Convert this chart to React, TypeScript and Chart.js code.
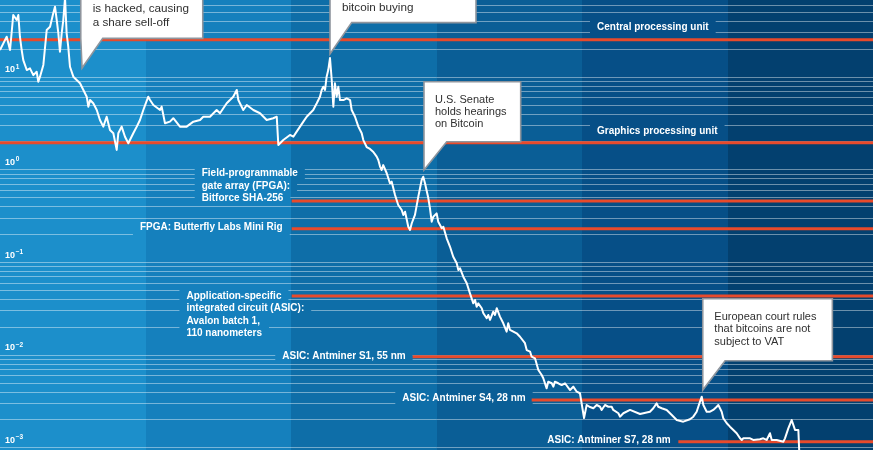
import React, { useEffect, useRef } from 'react';
import { Chart, registerables } from 'chart.js';

Chart.register(...registerables);

// ---------- data ----------
const dates: number[] = [
  2011.000, 2011.023, 2011.046, 2011.069, 2011.091, 2011.115, 2011.126, 2011.137, 2011.149, 2011.160,
  2011.184, 2011.206, 2011.229, 2011.252, 2011.263, 2011.275, 2011.298, 2011.321, 2011.344, 2011.366,
  2011.378, 2011.390, 2011.401, 2011.412, 2011.424, 2011.435, 2011.447, 2011.458, 2011.469, 2011.481,
  2011.504, 2011.527, 2011.550, 2011.573, 2011.596, 2011.607, 2011.619, 2011.641, 2011.665, 2011.687,
  2011.710, 2011.733, 2011.756, 2011.779, 2011.802, 2011.813, 2011.836, 2011.859, 2011.882, 2011.893,
  2011.916, 2011.940, 2011.962, 2011.985, 2012.019, 2012.031, 2012.054, 2012.100, 2012.111, 2012.134,
  2012.168, 2012.191, 2012.237, 2012.283, 2012.329, 2012.375, 2012.397, 2012.443, 2012.489, 2012.512,
  2012.558, 2012.603, 2012.627, 2012.638, 2012.672, 2012.696, 2012.741, 2012.787, 2012.833, 2012.878,
  2012.902, 2012.913, 2012.947, 2012.993, 2013.016, 2013.039, 2013.062, 2013.085, 2013.108, 2013.131,
  2013.153, 2013.177, 2013.199, 2013.211, 2013.222, 2013.234, 2013.245, 2013.256, 2013.268, 2013.280,
  2013.291, 2013.302, 2013.314, 2013.325, 2013.337, 2013.360, 2013.383, 2013.406, 2013.417, 2013.440,
  2013.463, 2013.486, 2013.497, 2013.520, 2013.543, 2013.566, 2013.589, 2013.600, 2013.612, 2013.623,
  2013.634, 2013.658, 2013.680, 2013.692, 2013.715, 2013.737, 2013.761, 2013.772, 2013.784, 2013.806,
  2013.818, 2013.830, 2013.852, 2013.875, 2013.898, 2013.909, 2013.921, 2013.944, 2013.955, 2013.967,
  2013.978, 2014.001, 2014.012, 2014.036, 2014.047, 2014.070, 2014.093, 2014.115, 2014.139, 2014.150,
  2014.162, 2014.184, 2014.208, 2014.230, 2014.253, 2014.265, 2014.276, 2014.287, 2014.311, 2014.322,
  2014.345, 2014.356, 2014.368, 2014.390, 2014.402, 2014.414, 2014.436, 2014.459, 2014.482, 2014.493,
  2014.505, 2014.551, 2014.574, 2014.608, 2014.620, 2014.643, 2014.654, 2014.677, 2014.700, 2014.723,
  2014.734, 2014.757, 2014.768, 2014.792, 2014.803, 2014.814, 2014.837, 2014.860, 2014.883, 2014.918,
  2014.940, 2014.964, 2014.986, 2015.014, 2015.032, 2015.055, 2015.078, 2015.101, 2015.124, 2015.135,
  2015.158, 2015.181, 2015.204, 2015.215, 2015.250, 2015.261, 2015.284, 2015.330, 2015.399, 2015.467,
  2015.490, 2015.513, 2015.524, 2015.548, 2015.582, 2015.617, 2015.651, 2015.696, 2015.742, 2015.765,
  2015.788, 2015.811, 2015.823, 2015.834, 2015.857, 2015.880, 2015.902, 2015.926, 2015.937, 2015.960,
  2015.971, 2015.995, 2016.017, 2016.040, 2016.063, 2016.086, 2016.098, 2016.109, 2016.155, 2016.177,
  2016.223, 2016.246, 2016.269, 2016.292, 2016.304, 2016.338, 2016.384, 2016.395, 2016.418, 2016.441,
  2016.464, 2016.487, 2016.498,
];

const ratio: number[] = [
  19.4, 22.9, 27.0, 19.4, 46.3, 40.9, 46.3, 27.0, 19.4, 15.1,
  11.8, 12.3, 10.4, 11.3, 8.83, 10.0, 13.4, 31.9, 34.6, 48.3,
  57.0, 40.9, 29.4, 18.6, 29.4, 40.9, 70.7, 29.4, 21.1, 12.8,
  10.0, 9.21, 8.49, 7.19, 6.08, 4.75, 5.60, 5.16, 4.37, 3.41,
  2.89, 3.70, 2.66, 2.45, 1.62, 2.45, 2.89, 2.25, 1.91, 2.07,
  2.45, 2.89, 3.41, 4.37, 6.08, 5.60, 4.95, 4.37, 4.75, 3.14,
  3.27, 3.56, 2.89, 2.89, 3.27, 3.41, 3.70, 3.70, 4.37, 4.03,
  5.16, 6.08, 7.19, 5.60, 4.37, 4.95, 4.37, 4.03, 3.41, 3.56,
  3.70, 1.83, 2.07, 2.35, 2.25, 2.55, 2.89, 3.27, 3.70, 4.03,
  4.37, 5.16, 6.08, 7.19, 7.80, 7.19, 10.0, 11.8, 15.9, 9.21,
  4.75, 8.49, 6.08, 7.80, 5.60, 5.60, 5.85, 5.60, 4.37, 3.70,
  2.89, 2.45, 2.07, 1.74, 1.66, 1.54, 1.37, 1.26, 1.07, 0.984,
  1.11, 0.907, 0.707, 0.736, 0.529, 0.412, 0.364, 0.322, 0.349, 0.240,
  0.222, 0.262, 0.322, 0.507, 0.767, 0.833, 0.707, 0.487, 0.380, 0.272,
  0.308, 0.335, 0.272, 0.231, 0.240, 0.180, 0.146, 0.114, 0.0968, 0.0820,
  0.0855, 0.0694, 0.0589, 0.0459, 0.0358, 0.0389, 0.0329, 0.0358, 0.0317, 0.0280,
  0.0247, 0.0268, 0.0237, 0.0291, 0.0268, 0.0317, 0.0257, 0.0218, 0.0177, 0.0218,
  0.0185, 0.0170, 0.0156, 0.0133, 0.0112, 0.0108, 0.0095, 0.00913, 0.00683, 0.00603,
  0.00556, 0.00433, 0.00511, 0.00491, 0.00451, 0.00511, 0.00491, 0.00470, 0.00491, 0.00415,
  0.00451, 0.00398, 0.00383, 0.00207, 0.00286, 0.00272, 0.00264, 0.00286, 0.00274, 0.00253,
  0.00286, 0.00274, 0.00274, 0.00253, 0.00233, 0.00214, 0.00233, 0.00253, 0.00229, 0.00242,
  0.00264, 0.00298, 0.00274, 0.00264, 0.00253, 0.00223, 0.00197, 0.00189, 0.00201, 0.00214,
  0.00242, 0.00311, 0.00352, 0.00286, 0.00242, 0.00242, 0.00253, 0.00274, 0.00286, 0.00242,
  0.00206, 0.00182, 0.00167, 0.00154, 0.00142, 0.00125, 0.00120, 0.00125, 0.00125, 0.00120,
  0.00122, 0.00125, 0.00120, 0.00142, 0.00120, 0.00120, 0.00115, 0.00125, 0.00160, 0.00197,
  0.00154, 0.00154, 0.00057,
];

const bandYears = [2011, 2012, 2013, 2014, 2015, 2016];

const hwLabels: string[][] = [
  ['Central processing unit'],
  ['Graphics processing unit'],
  ['Field-programmable', 'gate array (FPGA):', 'Bitforce SHA-256'],
  ['FPGA: Butterfly Labs Mini Rig'],
  ['Application-specific', 'integrated circuit (ASIC):', 'Avalon batch 1,', '110 nanometers'],
  ['ASIC: Antminer S1, 55 nm'],
  ['ASIC: Antminer S4, 28 nm'],
  ['ASIC: Antminer S7, 28 nm'],
];
const hwValues = [25.1, 1.94, 0.455, 0.229, 0.043, 0.0095, 0.00324, 0.00115];
const hwStart = [2011, 2011, 2013.005, 2013.005, 2013.005, 2013.836, 2014.654, 2015.662];

const eventLines: string[][] = [
  ['Exchange Mt. Gox', 'is hacked, causing', 'a share sell-off'],
  ['Cyprus financial crisis', 'spurs a surge in', 'bitcoin buying'],
  ['U.S. Senate', 'holds hearings', 'on Bitcoin'],
  ['European court rules', 'that bitcoins are not', 'subject to VAT'],
];
const eventDates = [2011.564, 2013.268, 2013.914, 2015.83];
const eventValues = [12.4, 17.6, 0.984, 0.00415];

const tickExponents = [1, 0, -1, -2, -3];

const X_MIN = 2011;
const X_MAX = 2017;
const Y_MIN = 0.000935;
const Y_MAX = 67.25;

// ---------- styles / layout ----------
const bandColors = ['#1c8fcb', '#1580bd', '#0e6ea8', '#0a5e96', '#064f87', '#03406f'];
const RED = '#e84a2b';
const GRID = 'rgba(255,255,255,0.42)';
const FONT_FAMILY = '"Liberation Sans", Arial, Helvetica, sans-serif';
const LABEL_FONT = `bold 10px ${FONT_FAMILY}`;
const LABEL_LH = 12.5;

type Lay = { align: 'left' | 'right'; absX?: number; dx: number; dy: number };
const hwLayout: Lay[] = [
  { align: 'left', absX: 597, dx: 0, dy: -12 },
  { align: 'left', absX: 597, dx: 0, dy: -11 },
  { align: 'left', dx: -90, dy: -27.5 },
  { align: 'right', dx: -9, dy: -1.4 },
  { align: 'left', dx: -105.3, dy: 0 },
  { align: 'right', dx: -7, dy: -0.7 },
  { align: 'right', dx: -6, dy: -1.5 },
  { align: 'right', dx: -7.6, dy: -1.7 },
];

const calloutLayout = [
  { lx: -1.3, w: 122, font: 11.7, lh: 14.4, rise: 29.7, base: 22, padX: 12, lastDy: -15.6 },
  { lx: 0, w: 146, font: 11.7, lh: 14.4, rise: 31.3, base: 21.7, padX: 12, lastDy: -14.4 },
  { lx: 0, w: 96.7, font: 11, lh: 12.2, rise: 28.3, base: 22.7, padX: 11, lastDy: -17.6 },
  { lx: 0, w: 129.6, font: 11, lh: 12.5, rise: 29.3, base: 22.3, padX: 11.6, lastDy: -19 },
];

type Item = { t: string; x: number; align: 'left' | 'right'; cy: number; x0: number; x1: number };

function labelItems(chart: any): Item[] {
  const ctx = chart.ctx;
  const xs = chart.scales.x;
  const ys = chart.scales.y;
  ctx.save();
  ctx.font = LABEL_FONT;
  const items: Item[] = [];
  hwLabels.forEach((lines, i) => {
    const lay = hwLayout[i];
    const ly = ys.getPixelForValue(hwValues[i]);
    const ax = lay.absX !== undefined ? lay.absX : xs.getPixelForValue(hwStart[i]) + lay.dx;
    lines.forEach((t, j) => {
      const cy = ly + lay.dy + j * LABEL_LH;
      const w = ctx.measureText(t).width;
      const x0 = lay.align === 'left' ? ax : ax - w;
      items.push({ t, x: ax, align: lay.align, cy, x0, x1: x0 + w });
    });
  });
  ctx.restore();
  return items;
}

const decorPlugin = {
  id: 'decor',
  beforeDraw(chart: any) {
    const { ctx, chartArea } = chart;
    const xs = chart.scales.x;
    ctx.save();
    bandYears.forEach((yr, i) => {
      const a = Math.round(xs.getPixelForValue(yr));
      const b = Math.round(xs.getPixelForValue(yr + 1));
      ctx.fillStyle = bandColors[i];
      ctx.fillRect(a, chartArea.top, b - a, chartArea.bottom - chartArea.top);
    });
    ctx.restore();
  },
  beforeDatasetsDraw(chart: any) {
    const { ctx, chartArea } = chart;
    const ys = chart.scales.y;
    const items = labelItems(chart);
    ctx.save();
    ctx.strokeStyle = GRID;
    ctx.lineWidth = 1;
    for (let e = -4; e <= 2; e++) {
      for (let m = 1; m <= 9; m++) {
        const v = m * Math.pow(10, e);
        if (v < Y_MIN || v > Y_MAX) continue;
        const py = Math.round(ys.getPixelForValue(v)) + 0.5;
        const gaps = items
          .filter((it) => py >= it.cy - 7.3 && py <= it.cy + 7.3)
          .map((it) => [it.x0 - 7, it.x1 + 7])
          .sort((a, b) => a[0] - b[0]);
        let cur = chartArea.left;
        ctx.beginPath();
        gaps.forEach(([g0, g1]) => {
          if (g0 > cur) {
            ctx.moveTo(cur, py);
            ctx.lineTo(g0, py);
          }
          cur = Math.max(cur, g1);
        });
        if (cur < chartArea.right) {
          ctx.moveTo(cur, py);
          ctx.lineTo(chartArea.right, py);
        }
        ctx.stroke();
      }
    }
    ctx.restore();
  },
  afterDatasetsDraw(chart: any) {
    const { ctx } = chart;
    const ys = chart.scales.y;
    const items = labelItems(chart);
    ctx.save();
    ctx.fillStyle = '#ffffff';
    ctx.font = LABEL_FONT;
    ctx.textBaseline = 'middle';
    items.forEach((it) => {
      ctx.textAlign = it.align;
      ctx.fillText(it.t, it.x, it.cy);
    });
    // y tick labels
    ctx.textAlign = 'left';
    ctx.textBaseline = 'alphabetic';
    tickExponents.forEach((e) => {
      const py = ys.getPixelForValue(Math.pow(10, e));
      ctx.font = `bold 9px ${FONT_FAMILY}`;
      ctx.fillText('10', 5, py - 4.2);
      const w = ctx.measureText('10').width;
      ctx.font = `bold 6.5px ${FONT_FAMILY}`;
      const exp = e < 0 ? '\u2212' + String(-e) : String(e);
      ctx.fillText(exp, 5 + w + 0.8, py - 8);
    });
    ctx.restore();
  },
  afterDraw(chart: any) {
    const { ctx } = chart;
    const xs = chart.scales.x;
    const ys = chart.scales.y;
    ctx.save();
    eventLines.forEach((lines, i) => {
      const L = calloutLayout[i];
      const tx = xs.getPixelForValue(eventDates[i]);
      const ty = ys.getPixelForValue(eventValues[i]);
      const left = tx + L.lx;
      const bottom = ty - L.rise;
      const n = lines.length;
      const lastC = bottom + L.lastDy;
      const firstC = lastC - (n - 1) * L.lh;
      const top = firstC - 18;
      const right = left + L.w;
      ctx.beginPath();
      ctx.moveTo(left, top);
      ctx.lineTo(right, top);
      ctx.lineTo(right, bottom);
      ctx.lineTo(left + L.base, bottom);
      ctx.lineTo(tx, ty);
      ctx.lineTo(left, bottom);
      ctx.closePath();
      ctx.fillStyle = '#ffffff';
      ctx.fill();
      ctx.lineWidth = 1.6;
      ctx.strokeStyle = '#8f959d';
      ctx.lineJoin = 'miter';
      ctx.stroke();
      ctx.fillStyle = '#303030';
      ctx.font = `${L.font}px ${FONT_FAMILY}`;
      ctx.textAlign = 'left';
      ctx.textBaseline = 'middle';
      lines.forEach((t, j) => {
        ctx.fillText(t, left + L.padX, firstC + j * L.lh);
      });
    });
    ctx.restore();
  },
};

export default function App() {
  const ref = useRef<HTMLCanvasElement | null>(null);

  useEffect(() => {
    document.body.style.margin = '0';
    document.body.style.overflow = 'hidden';
    if (!ref.current) return;
    const hwSets = hwValues.map((v, i) => ({
      label: hwLabels[i].join(' '),
      data: [
        { x: hwStart[i], y: v },
        { x: X_MAX, y: v },
      ],
      borderColor: RED,
      borderWidth: 3,
      pointRadius: 0,
      order: 1,
    }));
    const chart = new Chart(ref.current, {
      type: 'line',
      data: {
        datasets: [
          {
            label: 'Ratio',
            data: dates.map((d, i) => ({ x: d, y: ratio[i] })),
            borderColor: '#ffffff',
            borderWidth: 2,
            borderJoinStyle: 'round',
            pointRadius: 0,
            tension: 0,
            order: 0,
          },
          ...hwSets,
        ],
      },
      options: {
        animation: false,
        responsive: false,
        devicePixelRatio: 1,
        layout: { padding: 0 },
        plugins: { legend: { display: false }, tooltip: { enabled: false } },
        events: [],
        scales: {
          x: { type: 'linear', min: X_MIN, max: X_MAX, display: false },
          y: { type: 'logarithmic', min: Y_MIN, max: Y_MAX, display: false },
        },
      },
      plugins: [decorPlugin],
    } as any);
    return () => chart.destroy();
  }, []);

  return (
    <div style={{ width: 873, height: 450 }}>
      <canvas ref={ref} width={873} height={450} style={{ display: 'block' }} />
    </div>
  );
}
